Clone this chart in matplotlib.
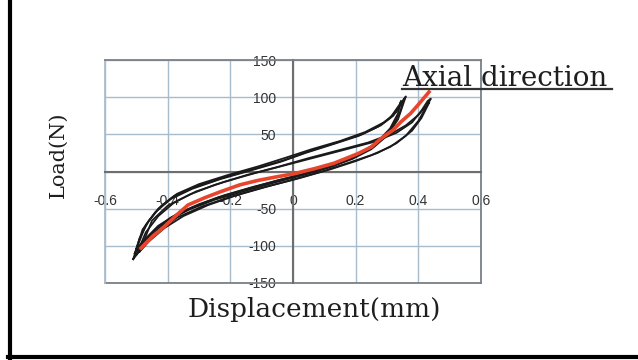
import matplotlib.pyplot as plt
from matplotlib.lines import Line2D

# hysteresis loops (displacement mm, load N)
loop1_x = [-0.505, -0.48, -0.44, -0.39, -0.32, -0.24, -0.15, -0.05, 0.05, 0.13, 0.20, 0.26, 0.31, 0.34, 0.355,
           0.345, 0.32, 0.28, 0.22, 0.14, 0.05, -0.03, -0.12, -0.22, -0.31, -0.38, -0.43, -0.47, -0.505]
loop1_y = [-110, -97, -78, -62, -48, -35, -24, -12, -2, 8, 20, 34, 55, 78, 98,
           92, 75, 62, 50, 39, 27, 15, 4, -8, -20, -33, -50, -72, -110]

loop2_x = [-0.51, -0.485, -0.45, -0.40, -0.33, -0.25, -0.16, -0.06, 0.04, 0.12, 0.19, 0.25, 0.30, 0.335, 0.36,
           0.35, 0.33, 0.29, 0.23, 0.15, 0.06, -0.02, -0.11, -0.21, -0.30, -0.37, -0.42, -0.46, -0.49, -0.51]
loop2_y = [-118, -104, -84, -66, -51, -38, -27, -15, -4, 6, 17, 30, 48, 70, 101,
           94, 80, 66, 53, 41, 30, 19, 7, -5, -17, -30, -46, -66, -90, -118]

loop3_x = [-0.50, -0.47, -0.43, -0.37, -0.30, -0.22, -0.13, -0.03, 0.07, 0.15, 0.22, 0.27, 0.31, 0.335, 0.345,
           0.34, 0.31, 0.27, 0.21, 0.13, 0.04, -0.04, -0.13, -0.23, -0.32, -0.39, -0.44, -0.48, -0.50]
loop3_y = [-104, -90, -73, -57, -44, -32, -21, -10, 1, 12, 26, 40, 58, 78, 95,
           90, 72, 60, 48, 37, 25, 13, 2, -10, -23, -37, -55, -78, -104]

loop4_x = [-0.50, -0.47, -0.43, -0.37, -0.29, -0.20, -0.10, 0.0, 0.10, 0.18, 0.25, 0.31, 0.36, 0.40, 0.44,
           0.43, 0.41, 0.38, 0.33, 0.26, 0.18, 0.08, -0.02, -0.12, -0.22, -0.31, -0.38, -0.43, -0.47, -0.50]
loop4_y = [-112, -98, -80, -62, -47, -34, -22, -11, 1, 12, 22, 33, 48, 68, 98,
           95, 82, 66, 52, 40, 31, 20, 9, -2, -14, -27, -42, -60, -82, -112]

loop5_x = [-0.49, -0.46, -0.41, -0.35, -0.27, -0.18, -0.08, 0.02, 0.12, 0.20, 0.27, 0.33, 0.38, 0.41, 0.435,
           0.425, 0.40, 0.36, 0.31, 0.24, 0.15, 0.05, -0.05, -0.15, -0.25, -0.33, -0.40, -0.45, -0.49]
loop5_y = [-108, -94, -76, -60, -45, -32, -20, -9, 3, 14, 25, 38, 55, 72, 93,
           88, 76, 62, 50, 39, 29, 18, 6, -5, -18, -31, -46, -66, -108]

red_x = [-0.485, -0.45, -0.41, -0.37, -0.335, -0.28, -0.23, -0.17, -0.112, -0.05, 0.003, 0.07, 0.13,
         0.207, 0.25, 0.28, 0.32, 0.345, 0.375, 0.40, 0.434]
red_y = [-103, -88, -74, -58, -45, -35, -27, -18, -12, -7, -3, 4, 11, 24, 33, 44, 56, 67, 78, 90, 107]

x_ticks = [-0.6, -0.4, -0.2, 0, 0.2, 0.4, 0.6]
x_labels = ["-0.6", "-0.4", "-0.2", "0", "0.2", "0.4", "0.6"]
y_ticks = [-150, -100, -50, 0, 50, 100, 150]
y_labels = ["-150", "-100", "-50", "", "50", "100", "150"]

fig = plt.figure(figsize=(6.38, 3.6), dpi=100)
ax = fig.add_axes([105/638, 1 - 283/360, 376/638, 223/360])

for lx, ly in [(loop1_x, loop1_y), (loop2_x, loop2_y), (loop3_x, loop3_y),
               (loop4_x, loop4_y), (loop5_x, loop5_y)]:
    ax.plot(lx, ly, color="#1a1a1a", lw=1.3, zorder=4)
ax.plot(red_x, red_y, color="#e8452c", lw=2.6, zorder=5)

ax.set_xlim(-0.6, 0.6)
ax.set_ylim(-150, 150)
ax.set_xticks(x_ticks)
ax.set_xticklabels(x_labels)
ax.set_yticks(y_ticks)
ax.set_yticklabels(y_labels)
ax.grid(True, color="#a9bccb", lw=1.0)
ax.set_axisbelow(True)

for side in ["left", "bottom"]:
    ax.spines[side].set_position(("data", 0))
    ax.spines[side].set_color("#6e6e6e")
    ax.spines[side].set_linewidth(1.5)
for side in ["top", "right"]:
    ax.spines[side].set_color("#7a8088")
    ax.spines[side].set_linewidth(1.3)
# outer edges of the plot box
ax.axhline(-150, color="#7a8088", lw=1.3, clip_on=False, zorder=1)
ax.axvline(-0.6, color="#a9bccb", lw=1.3, clip_on=False, zorder=1)

ax.tick_params(axis="x", length=0, pad=16, labelsize=10, labelcolor="#333333")
ax.tick_params(axis="y", length=0, pad=12, labelsize=10, labelcolor="#333333")
for lab in ax.get_xticklabels() + ax.get_yticklabels():
    lab.set_fontfamily("Liberation Sans")

fig.text(402/638, 1 - 86/360, "Axial direction", family="DejaVu Serif", fontsize=20,
         ha="left", va="baseline", color="#1e1e1e")
fig.add_artist(Line2D([402/638, 612/638], [1 - 88.5/360] * 2, color="#333333", lw=1.6))
fig.text(314/638, 1 - 317/360, "Displacement(mm)", family="DejaVu Serif", fontsize=19,
         ha="center", va="baseline", color="#1e1e1e")
fig.text(58/638, 1 - 155/360, "Load(N)", family="DejaVu Serif", fontsize=15,
         rotation=90, ha="center", va="center", color="#1e1e1e")

# partial frame round the picture (left and bottom edges)
fig.add_artist(Line2D([10/638, 10/638], [0, 1], color="black", lw=3))
fig.add_artist(Line2D([8/638, 1], [3/360, 3/360], color="black", lw=3))

plt.savefig("out.png", dpi=100)
